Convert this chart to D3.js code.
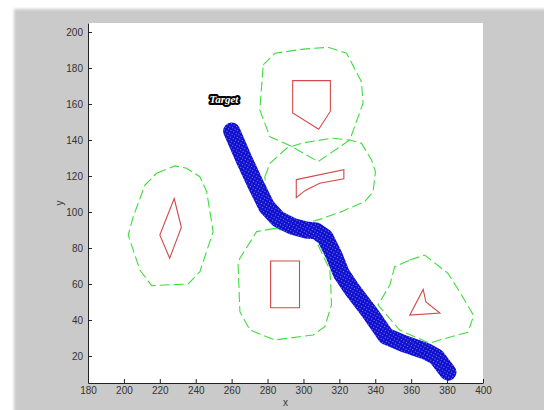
<!DOCTYPE html>
<html>
<head>
<meta charset="utf-8">
<script src="https://cdn.jsdelivr.net/npm/d3@7"></script>
<style>
  body { margin: 0; background: #fff; }
  .tick text { font-family: Arial, "Liberation Sans", sans-serif; font-size: 10px; fill: #333; }
  .axis path, .axis line { stroke: #222; }
</style>
</head>
<body>
<script>
// axis setup
var xDomain = [180, 400];
var yDomain = [5, 205];
var xTicks = [180, 200, 220, 240, 260, 280, 300, 320, 340, 360, 380, 400];
var yTicks = [20, 40, 60, 80, 100, 120, 140, 160, 180, 200];

// obstacles (red)
var obsTop = [[294, 173], [315, 173], [315, 156], [308.5, 146], [294, 155]];
var obsMid = [[296, 118], [322.5, 123.5], [322.5, 118.5], [309, 116], [301, 112], [296, 108]];
var obsLeft = [[228, 107.5], [232, 91.5], [225.5, 74.3], [220, 87.2]];
var obsRect = [[281.7, 72.8], [297.8, 72.8], [297.8, 46.8], [281.7, 46.8]];
var obsTri = [[366.7, 57], [368.2, 50], [376, 43.9], [359.2, 42.7]];

// safety hulls (green dashed)
var hullTop = [[277.6, 181.7], [284.1, 188.2], [300, 190.5], [313.7, 191.5], [324, 188.2], [332.3, 172.4],
  [333.2, 160.4], [325.8, 140], [308.2, 128], [292.4, 137], [281.3, 141.8], [275.7, 156.7]];
var hullMid = [[278.5, 119.6], [281.3, 127], [290.6, 135.4], [298.9, 138.2], [315.6, 141], [325.8, 140],
  [332.3, 138.2], [337.9, 128.9], [340.1, 122.4], [338.8, 111.3], [334.1, 105.7], [321.2, 100.2],
  [309.1, 95.9], [298, 92.8], [286.8, 90], [280.2, 98.3]];
var hullLeft = [[218.2, 121.5], [228.4, 125.6], [234.9, 124.3], [242.3, 119.6], [246.1, 111.3], [249.7, 89.1],
  [242.3, 66.8], [235.8, 60], [215.4, 59.1], [208.9, 67.8], [202.4, 87.2], [205.2, 97.4], [211.7, 115]];
var hullRect = [[284.1, 90.9], [273.9, 89.1], [264.6, 74.3], [263.6, 70.6], [264.6, 44.6], [270.2, 34.4],
  [284.1, 28.9], [305.4, 31.7], [311.9, 36.3], [315.6, 48.3], [315.2, 59.4], [314.7, 68], [306, 86]];
var hullTri = [[359.2, 73.3], [367.5, 76.1], [380.5, 65.9], [387, 55.7], [394.8, 42.4], [391.6, 33.2],
  [375.9, 28.9], [370.3, 27.1], [353.6, 34.4], [341.5, 48.3], [348.1, 59.4], [350.8, 69.6]];

// robot path (blue)
var pathPoints = [[260, 145], [267, 129], [274, 114], [279.5, 103], [286, 96], [294, 92], [301.5, 90],
  [307, 89.5], [312, 86], [317, 76], [321, 66], [327, 57], [337, 44], [346, 31], [355.5, 27],
  [368.5, 22.5], [374, 19.5], [380.5, 11]];

var targetLabel = { text: "Target", x: 255.7, y: 162.8 };

var margin = { top: 23, left: 88 },
    plotW = 395,
    plotH = 360;

var svg = d3.select("body").append("svg")
  .attr("width", 544)
  .attr("height", 410);

var defs = svg.append("defs");
defs.append("filter").attr("id", "soft")
  .append("feGaussianBlur").attr("stdDeviation", 1.5);

var pat = defs.append("pattern")
  .attr("id", "speckle")
  .attr("width", 3).attr("height", 3)
  .attr("patternUnits", "userSpaceOnUse")
  .attr("patternTransform", "rotate(30)");
pat.append("rect").attr("width", 3).attr("height", 3).attr("fill", "#1010cf");
pat.append("rect").attr("width", 1).attr("height", 1).attr("fill", "#8585ee");

defs.append("clipPath").attr("id", "plotclip")
  .append("rect").attr("width", plotW).attr("height", plotH);

// figure background
svg.append("rect")
  .attr("x", 14).attr("y", 9)
  .attr("width", 540).attr("height", 410)
  .attr("fill", "#cacaca")
  .attr("filter", "url(#soft)");

var g = svg.append("g")
  .attr("transform", "translate(" + margin.left + "," + margin.top + ")");

g.append("rect")
  .attr("width", plotW).attr("height", plotH)
  .attr("fill", "#fff");

var xScale = d3.scaleLinear().domain(xDomain).range([0, plotW]);
var yScale = d3.scaleLinear().domain(yDomain).range([plotH, 0]);

var pathLine = d3.line()
  .x(function(d) { return xScale(d[0]); })
  .y(function(d) { return yScale(d[1]); });

var polyLine = d3.line()
  .x(function(d) { return xScale(d[0]); })
  .y(function(d) { return yScale(d[1]); })
  .curve(d3.curveLinearClosed);

var plot = g.append("g").attr("clip-path", "url(#plotclip)");

plot.selectAll(".hull")
  .data([hullTop, hullMid, hullLeft, hullRect, hullTri])
  .enter().append("path")
  .attr("class", "hull")
  .attr("d", function(d) { return polyLine(d); })
  .attr("fill", "none")
  .attr("stroke", "#3fdc3f")
  .attr("stroke-width", 1.1)
  .attr("stroke-dasharray", "10,4");

plot.selectAll(".obs")
  .data([obsTop, obsMid, obsLeft, obsRect, obsTri])
  .enter().append("path")
  .attr("class", "obs")
  .attr("d", function(d) { return polyLine(d); })
  .attr("fill", "none")
  .attr("stroke", "#d24a4a")
  .attr("stroke-width", 1.1);

plot.append("path")
  .datum(pathPoints)
  .attr("d", pathLine)
  .attr("fill", "none")
  .attr("stroke", "url(#speckle)")
  .attr("stroke-width", 17)
  .attr("stroke-linecap", "round")
  .attr("stroke-linejoin", "round");

g.append("text")
  .attr("x", xScale(targetLabel.x))
  .attr("y", yScale(targetLabel.y))
  .attr("text-anchor", "middle")
  .attr("dominant-baseline", "central")
  .style("font-family", "'Liberation Serif', 'DejaVu Serif', serif")
  .style("font-style", "italic")
  .style("font-weight", "bold")
  .style("font-size", "11px")
  .style("paint-order", "stroke")
  .attr("fill", "#fff")
  .attr("stroke", "#000")
  .attr("stroke-width", 4)
  .attr("stroke-linejoin", "round")
  .text(targetLabel.text);

g.append("g")
  .attr("class", "axis")
  .attr("transform", "translate(0," + plotH + ")")
  .call(d3.axisBottom(xScale).tickValues(xTicks).tickSizeInner(-4).tickSizeOuter(0).tickPadding(4));

g.append("g")
  .attr("class", "axis")
  .call(d3.axisLeft(yScale).tickValues(yTicks).tickSizeInner(-4).tickSizeOuter(0).tickPadding(5));

g.append("text")
  .attr("x", plotW / 2)
  .attr("y", plotH + 23)
  .attr("text-anchor", "middle")
  .style("font-family", "Arial, 'Liberation Sans', sans-serif")
  .style("font-size", "10px")
  .attr("fill", "#333")
  .text("x");

g.append("text")
  .attr("transform", "translate(-25," + (plotH / 2) + ") rotate(-90)")
  .attr("text-anchor", "middle")
  .style("font-family", "Arial, 'Liberation Sans', sans-serif")
  .style("font-size", "10px")
  .attr("fill", "#333")
  .text("y");
</script>
</body>
</html>
